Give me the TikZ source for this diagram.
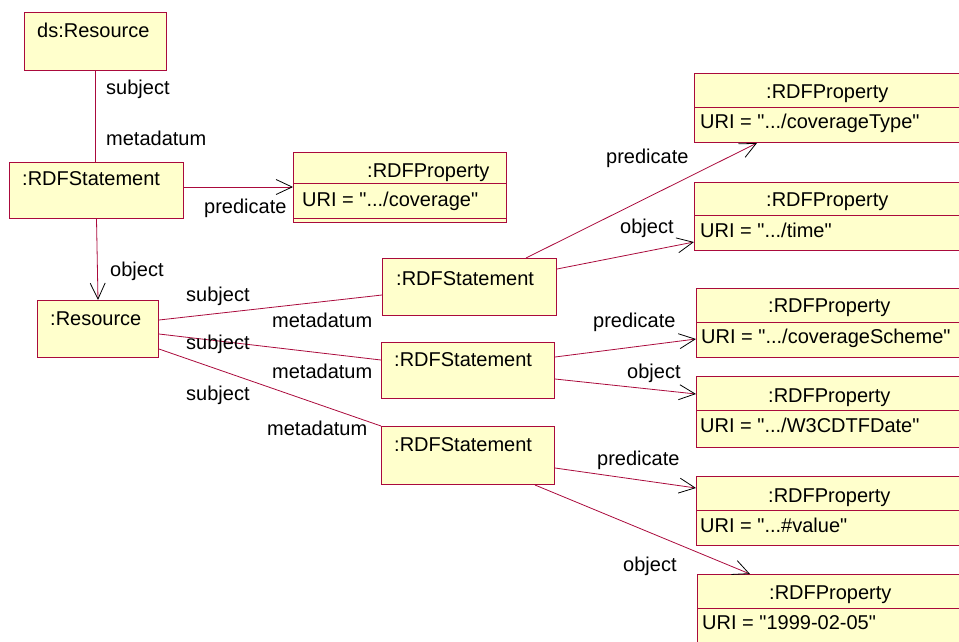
\documentclass[tikz,border=0pt]{standalone}
\usetikzlibrary{arrows.meta}
\definecolor{boxfill}{RGB}{255,255,204}
\definecolor{edge}{RGB}{170,10,60}
\font\umlfont="Liberation Sans" at 20pt
\begin{document}
\begin{tikzpicture}[x=1pt,y=-1pt,
  obj/.style={draw=edge,fill=boxfill,line width=1pt,rectangle,inner sep=0pt,anchor=north west},
  txt/.style={anchor=base west,inner sep=0pt,font=\umlfont},
  conn/.style={draw=edge,line width=0.8pt},
  arr/.style={conn,-{Straight Barb[length=16pt,width=15pt,color=black,line width=0.8pt]}},
  div/.style={draw=edge,line width=1pt}]
\useasboundingbox (0,0) rectangle (959,641);
\clip (0,0) rectangle (959,641);
% boxes
\node[obj,minimum width=142pt,minimum height=58pt] (ds) at (24,12) {};
\node[obj,minimum width=174pt,minimum height=56pt] (st0) at (9,162) {};
\node[obj,minimum width=213pt,minimum height=70pt] (prop0) at (293,152) {};
\node[obj,minimum width=121pt,minimum height=57pt] (res) at (37,300) {};
\node[obj,minimum width=174pt,minimum height=57pt] (rs1) at (382,258) {};
\node[obj,minimum width=173pt,minimum height=56pt] (rs2) at (381,342) {};
\node[obj,minimum width=173pt,minimum height=58pt] (rs3) at (381,426) {};
\node[obj,minimum width=290pt,minimum height=69pt] (p1) at (694,73) {};
\node[obj,minimum width=290pt,minimum height=68pt] (p2) at (694,182) {};
\node[obj,minimum width=290pt,minimum height=69pt] (p3) at (696,288) {};
\node[obj,minimum width=290pt,minimum height=71pt] (p4) at (696,376) {};
\node[obj,minimum width=290pt,minimum height=69pt] (p5) at (696,476) {};
\node[obj,minimum width=290pt,minimum height=100pt] (p6) at (697,574) {};
% compartment dividers
\draw[div] (prop0.west |- 0,183) -- (prop0.east |- 0,183);
\draw[div] (prop0.west |- 0,218) -- (prop0.east |- 0,218);
\draw[div] (p1.west |- 0,107) -- (p1.east |- 0,107);
\draw[div] (p2.west |- 0,215) -- (p2.east |- 0,215);
\draw[div] (p3.west |- 0,322) -- (p3.east |- 0,322);
\draw[div] (p4.west |- 0,410) -- (p4.east |- 0,410);
\draw[div] (p5.west |- 0,510) -- (p5.east |- 0,510);
\draw[div] (p6.west |- 0,608) -- (p6.east |- 0,608);
% box texts
\node[txt] (tds) at (37,37) {ds:Resource};
\node[txt] (tst0) at (22,185) {:RDFStatement};
\node[txt] (tp0a) at (367,177) {:RDFProperty};
\node[txt] (tp0b) at (302,206) {URI = ".../coverage"};
\node[txt] (tres) at (50,325) {:Resource};
\node[txt] (trs1) at (396,285) {:RDFStatement};
\node[txt] (trs2) at (394,366) {:RDFStatement};
\node[txt] (trs3) at (394,451) {:RDFStatement};
\node[txt] (tp1a) at (766,98) {:RDFProperty};
\node[txt] (tp1b) at (700,128) {URI = ".../coverageType"};
\node[txt] (tp2a) at (766,206) {:RDFProperty};
\node[txt] (tp2b) at (700,237) {URI = ".../time"};
\node[txt] (tp3a) at (768,312) {:RDFProperty};
\node[txt] (tp3b) at (701,343) {URI = ".../coverageScheme"};
\node[txt] (tp4a) at (768,402) {:RDFProperty};
\node[txt] (tp4b) at (700,432) {URI = ".../W3CDTFDate"};
\node[txt] (tp5a) at (768,502) {:RDFProperty};
\node[txt] (tp5b) at (700,532) {URI = "...\#value"};
\node[txt] (tp6a) at (769,599) {:RDFProperty};
\node[txt] (tp6b) at (702,629) {URI = "1999-02-05"};
% connectors
\draw[conn] (ds.south) -- (ds.south |- st0.north);
\draw[arr] (st0.east |- 0,187) -- (prop0.west |- 0,187);
\draw[arr] (st0.south) -- (res.north);
\draw[conn] (res.east |- 0,320) -- (rs1.west |- 0,295);
\draw[conn] (res.east |- 0,334) -- (rs2.west |- 0,360);
\draw[conn] (res.east |- 0,349) -- (rs3.north west);
\draw[arr] (rs1.north -| 526,0) -- (p1.south -| 757,0);
\draw[arr] (rs1.east |- 0,269) -- (p2.west |- 0,242);
\draw[arr] (rs2.east |- 0,357) -- (p3.west |- 0,339);
\draw[arr] (rs2.east |- 0,379) -- (p4.west |- 0,394);
\draw[arr] (rs3.east |- 0,468) -- (p5.west |- 0,488);
\draw[arr] (rs3.south -| 535,0) -- (p6.north -| 750,0);
% connector labels
\node[txt] (l1) at (106,94) {subject};
\node[txt] (l2) at (106,145) {metadatum};
\node[txt] (l3) at (204,213) {predicate};
\node[txt] (l4) at (110,276) {object};
\node[txt] (l5) at (186,301) {subject};
\node[txt] (l6) at (272,327) {metadatum};
\node[txt] (l7) at (186,349) {subject};
\node[txt] (l8) at (272,378) {metadatum};
\node[txt] (l9) at (186,400) {subject};
\node[txt] (l10) at (267,435) {metadatum};
\node[txt] (l11) at (606,163) {predicate};
\node[txt] (l12) at (620,233) {object};
\node[txt] (l13) at (593,327) {predicate};
\node[txt] (l14) at (627,378) {object};
\node[txt] (l15) at (597,465) {predicate};
\node[txt] (l16) at (623,571) {object};
\end{tikzpicture}
\end{document}
